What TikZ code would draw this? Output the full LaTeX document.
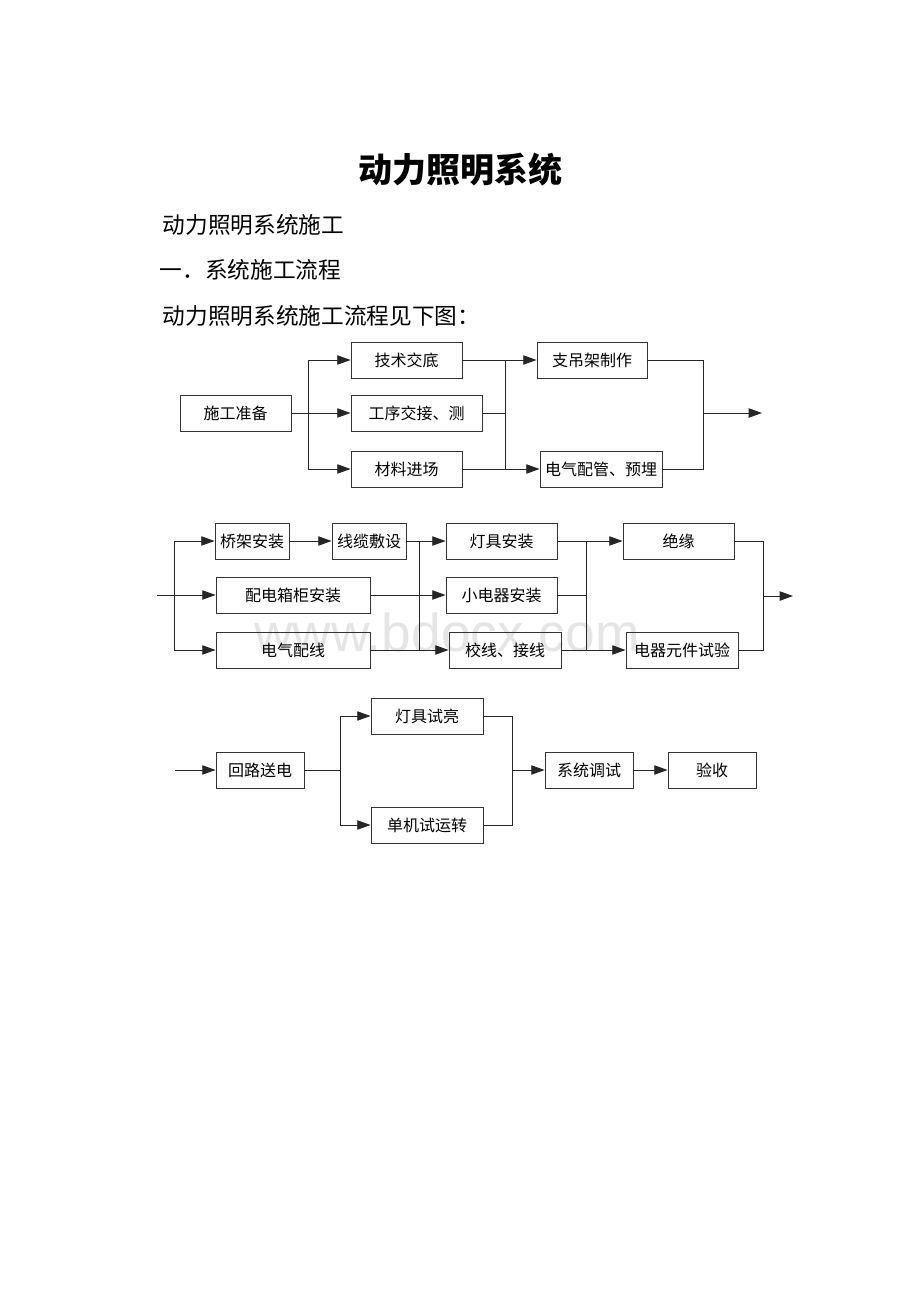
\documentclass[tikz,border=0pt]{standalone}
\usepackage{fontspec}
\usetikzlibrary{arrows.meta}
\newfontfamily\cjk{Noto Sans CJK SC}
\newfontfamily\wmfont{Liberation Sans}
\tikzset{
  box/.style={draw=black!80, line width=0.6pt, minimum height=27pt, inner sep=0pt,
    font=\cjk\fontsize{12}{14}\selectfont},
  link/.style={draw=black!85, line width=0.7pt},
  flow/.style={link, -{Triangle[length=10pt,width=7pt]}},
  line/.style={anchor=west, font=\cjk\fontsize{17}{20}\selectfont}
}
\begin{document}
\begin{tikzpicture}[x=0.75pt, y=-0.75pt]
	\useasboundingbox (0,0) rectangle (920,1302);
	% watermark
	\node[text=black!10, font=\wmfont\fontsize{40}{40}\selectfont] (wm) at (447,632) {www.bdocx.com};
	% heading and text
	\node[font=\cjk\bfseries\fontsize{25.5}{30}\selectfont] (title) at (460,170) {动力照明系统};
	\node[line] (t1) at (158,225) {动力照明系统施工};
	\node[line] (t2) at (155,270) {一．系统施工流程};
	\node[line] (t3) at (158,316) {动力照明系统施工流程见下图：};
	% first row
	\node[box, minimum width=83.25pt] (sgzb) at (235.5,413) {施工准备};
	\node[box, minimum width=83.25pt] (jsjd) at (406.5,360) {技术交底};
	\node[box, minimum width=98.25pt] (gxjj) at (416.5,413) {工序交接、测};
	\node[box, minimum width=83.25pt] (cljc) at (406.5,469) {材料进场};
	\node[box, minimum width=82.5pt] (zdj) at (592,360) {支吊架制作};
	\node[box, minimum width=91.5pt] (dqpg) at (601,469) {电气配管、预埋};
	\coordinate (b1) at (308,413);
	\coordinate (b2) at (505,413);
	\coordinate (b3) at (703,413);
	\coordinate (out1) at (762,413);
	\draw[flow] (sgzb) -- (gxjj);
	\draw[flow] (b1) |- (jsjd);
	\draw[flow] (b1) |- (cljc);
	\draw[link] (jsjd) -| (b2);
	\draw[link] (cljc) -| (b2);
	\draw[link] (gxjj) -- (b2);
	\draw[flow] (b2 |- zdj.west) -- (zdj);
	\draw[flow] (b2 |- dqpg.west) -- (dqpg);
	\draw[link] (zdj) -| (b3);
	\draw[link] (dqpg) -| (b3);
	\draw[flow] (b3) -- (out1);
	% second row
	\node[box, minimum width=55.5pt] (qjaz) at (252,541) {桥架安装};
	\node[box, minimum width=55.5pt] (xlfs) at (369,541) {线缆敷设};
	\node[box, minimum width=115.5pt] (pdx) at (293,595) {配电箱柜安装};
	\node[box, minimum width=115.5pt] (dqpx) at (293,650) {电气配线};
	\node[box, minimum width=83.25pt] (djaz) at (501.5,541) {灯具安装};
	\node[box, minimum width=83.25pt] (xdq) at (501.5,595) {小电器安装};
	\node[box, minimum width=84pt] (jxx) at (505,650) {校线、接线};
	\node[box, minimum width=83.25pt] (jy) at (678.5,541) {绝缘};
	\node[box, minimum width=84pt] (dqyj) at (682,650) {电器元件试验};
	\coordinate (in2) at (157,595);
	\coordinate (b4) at (174,595);
	\coordinate (b5) at (419,595);
	\coordinate (b6) at (586,595);
	\coordinate (b7) at (763,596);
	\coordinate (out2) at (793,596);
	\draw[flow] (in2) -- (pdx);
	\draw[flow] (b4) |- (qjaz);
	\draw[flow] (b4) |- (dqpx);
	\draw[flow] (qjaz) -- (xlfs);
	\draw[link] (b5 |- xlfs.east) -- (b5 |- dqpx.east);
	\draw[flow] (xlfs) -- (djaz);
	\draw[flow] (pdx) -- (xdq);
	\draw[flow] (dqpx) -- (jxx);
	\draw[link] (b6 |- djaz.east) -- (b6 |- jxx.east);
	\draw[flow] (djaz) -- (jy);
	\draw[link] (xdq) -- (b6);
	\draw[flow] (jxx) -- (dqyj);
	\draw[link] (jy) -| (b7);
	\draw[link] (dqyj) -| (b7);
	\draw[flow] (b7) -- (out2);
	% third row
	\node[box, minimum width=66pt] (hlsd) at (260,770) {回路送电};
	\node[box, minimum width=84pt] (djsl) at (427,716) {灯具试亮};
	\node[box, minimum width=84pt] (djsy) at (427,825) {单机试运转};
	\node[box, minimum width=66pt] (xtts) at (589,770) {系统调试};
	\node[box, minimum width=66pt] (ys) at (712,770) {验收};
	\coordinate (in3) at (175,770);
	\coordinate (b8) at (340,770);
	\coordinate (b9) at (512,770);
	\draw[flow] (in3) -- (hlsd);
	\draw[link] (hlsd) -- (b8);
	\draw[flow] (b8) |- (djsl);
	\draw[flow] (b8) |- (djsy);
	\draw[link] (djsl) -| (b9);
	\draw[link] (djsy) -| (b9);
	\draw[flow] (b9) -- (xtts);
	\draw[flow] (xtts) -- (ys);
\end{tikzpicture}
\end{document}
